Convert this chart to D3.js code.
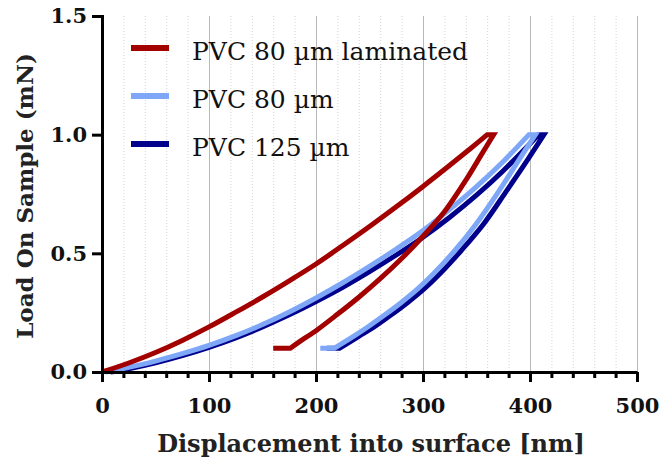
<!DOCTYPE html>
<html>
<head>
<meta charset="utf-8">
<script src="https://cdn.jsdelivr.net/npm/d3@7"></script>
<style>
  html, body { margin: 0; padding: 0; background: #fff; }
  svg { display: block; }
</style>
</head>
<body>
<svg id="chart" width="661" height="462"></svg>
<script>
// Nanoindentation load–displacement curves (loading, hold, unloading)
const seriesNames = ["PVC 80 µm laminated", "PVC 80 µm", "PVC 125 µm"];
const seriesColors = ["#a30000", "#7fa7f7", "#00008a"];

// PVC 80 µm laminated
const lamDepth = [0, 25, 50, 75, 100, 125, 150, 175, 200, 225, 250, 275, 300, 325, 345, 360,
                  366, 355, 341, 320, 300, 280, 260, 240, 220, 200, 185, 176, 160];
const lamLoad  = [0, 0.038, 0.082, 0.133, 0.19, 0.252, 0.316, 0.384, 0.455, 0.533, 0.613, 0.696, 0.782, 0.871, 0.944, 1.0,
                  1.0, 0.919, 0.815, 0.675, 0.572, 0.478, 0.393, 0.315, 0.243, 0.174, 0.129, 0.1, 0.1];

// PVC 80 µm
const p80Depth = [3, 25, 50, 75, 100, 125, 150, 175, 200, 225, 250, 275, 300, 325, 350, 375, 399,
                  405, 390, 370, 350, 330, 310, 295, 280, 265, 250, 235, 217, 204];
const p80Load  = [0, 0.02, 0.046, 0.077, 0.112, 0.153, 0.2, 0.253, 0.312, 0.376, 0.445, 0.518, 0.596, 0.685, 0.781, 0.887, 1.0,
                  1.0, 0.896, 0.756, 0.626, 0.513, 0.415, 0.35, 0.294, 0.243, 0.195, 0.15, 0.1, 0.1];

// PVC 125 µm
const p125Depth = [8, 25, 50, 75, 100, 125, 150, 175, 200, 225, 250, 275, 300, 325, 350, 375, 408,
                   413, 398, 377, 357, 336, 316, 301, 286, 271, 256, 240, 222, 210];
const p125Load  = [0, 0.014, 0.039, 0.069, 0.104, 0.144, 0.19, 0.241, 0.297, 0.357, 0.423, 0.493, 0.568, 0.652, 0.745, 0.848, 1.0,
                   1.0, 0.896, 0.756, 0.626, 0.513, 0.415, 0.35, 0.294, 0.243, 0.195, 0.15, 0.1, 0.1];

const xMajorTicks = [0, 100, 200, 300, 400, 500];
const xMinorTicks = d3.range(20, 500, 20).filter(v => v % 100 !== 0);
const yTicks = [0, 0.5, 1.0, 1.5];

const xTitle = "Displacement into surface [nm]";
const yTitle = "Load On Sample (mN)";

const svg = d3.select("#chart");
const x = d3.scaleLinear().domain([0, 500]).range([102, 637]);
const y = d3.scaleLinear().domain([0, 1.5]).range([372, 16]);

// vertical grid: dotted minor, solid major
const grid = svg.append("g");
grid.selectAll("line.minor").data(xMinorTicks).join("line")
  .attr("x1", d => x(d) + 0.5).attr("x2", d => x(d) + 0.5)
  .attr("y1", y(1.5)).attr("y2", y(0))
  .attr("stroke", "#d4d4d4").attr("stroke-width", 1)
  .attr("stroke-dasharray", "1,2");
grid.selectAll("line.major").data(xMajorTicks.slice(1)).join("line")
  .attr("x1", d => x(d) + 0.5).attr("x2", d => x(d) + 0.5)
  .attr("y1", y(1.5)).attr("y2", y(0))
  .attr("stroke", "#b8b8b8").attr("stroke-width", 1);

// curves: smooth loading and unloading branches, straight hold and end segments
const curveData = [
  d3.zip(lamDepth, lamLoad),
  d3.zip(p80Depth, p80Load),
  d3.zip(p125Depth, p125Load)
];
const smooth = d3.line().x(d => x(d[0])).y(d => y(d[1])).curve(d3.curveCatmullRom.alpha(0.5));
function loopPath(pts) {
  const maxLoad = d3.max(pts, d => d[1]);
  const minTail = pts[pts.length - 1][1];
  const peak = pts.findIndex(d => d[1] === maxLoad);          // end of loading
  let holdEnd = peak;
  while (holdEnd + 1 < pts.length && pts[holdEnd + 1][1] === maxLoad) holdEnd++;
  const tail = pts.findIndex((d, i) => i > holdEnd && d[1] === minTail); // end of unloading
  const loading = pts.slice(0, peak + 1);
  const unloading = pts.slice(holdEnd, tail + 1);
  const rest = pts.slice(tail + 1);
  let d = smooth(loading);
  d += smooth(unloading).replace(/^M/, "L");
  rest.forEach(p => { d += `L${x(p[0])},${y(p[1])}`; });
  return d;
}
const drawOrder = [2, 1, 0];
svg.append("g").selectAll("path").data(drawOrder).join("path")
  .attr("d", i => loopPath(curveData[i]))
  .attr("fill", "none")
  .attr("stroke", i => seriesColors[i])
  .attr("stroke-width", 5)
  .attr("stroke-linejoin", "miter");

// x axis
const xAxis = svg.append("g").attr("transform", `translate(0,${y(0)})`);
xAxis.call(d3.axisBottom(x).tickValues(xMinorTicks).tickSize(6).tickSizeOuter(0).tickFormat(""));
xAxis.selectAll(".domain").remove();
const xAxisMajor = svg.append("g").attr("transform", `translate(0,${y(0)})`);
xAxisMajor.call(d3.axisBottom(x).tickValues(xMajorTicks).tickSize(10).tickSizeOuter(0).tickPadding(16).tickFormat(d3.format("d")));
[xAxis, xAxisMajor].forEach(g => {
  g.selectAll(".tick line").attr("stroke", "#000").attr("stroke-width", 3);
});
xAxisMajor.select(".domain").attr("stroke", "#000").attr("stroke-width", 3);
xAxisMajor.selectAll(".tick text")
  .attr("font-family", "'DejaVu Serif', serif")
  .attr("font-weight", "bold")
  .attr("font-size", 21)
  .attr("fill", "#111");

// y axis
const yAxis = svg.append("g").attr("transform", `translate(${x(0)},0)`);
yAxis.call(d3.axisLeft(y).tickValues(yTicks).tickSize(10).tickSizeOuter(0).tickPadding(5).tickFormat(d3.format(".1f")));
yAxis.select(".domain").attr("stroke", "#000").attr("stroke-width", 3).attr("stroke-linecap", "square");
yAxis.selectAll(".tick line").attr("stroke", "#000").attr("stroke-width", 3);
yAxis.selectAll(".tick text")
  .attr("font-family", "'DejaVu Serif', serif")
  .attr("font-weight", "bold")
  .attr("font-size", 21)
  .attr("fill", "#111");

// axis titles
svg.append("text")
  .attr("x", 371).attr("y", 452)
  .attr("text-anchor", "middle")
  .attr("font-family", "'DejaVu Serif', serif")
  .attr("font-weight", "bold")
  .attr("font-size", 24)
  .attr("fill", "#222")
  .text(xTitle);
svg.append("text")
  .attr("transform", "translate(33,196) rotate(-90)")
  .attr("text-anchor", "middle")
  .attr("font-family", "'DejaVu Serif', serif")
  .attr("font-weight", "bold")
  .attr("font-size", 23)
  .attr("fill", "#222")
  .text(yTitle);

// legend
const legend = svg.append("g");
const rows = legend.selectAll("g").data(seriesNames).join("g")
  .attr("transform", (d, i) => `translate(0,${48 + i * 48})`);
rows.append("line")
  .attr("x1", 131).attr("x2", 169).attr("y1", 0).attr("y2", 0)
  .attr("stroke", (d, i) => seriesColors[i]).attr("stroke-width", 6);
rows.append("text")
  .attr("x", 192).attr("y", 12)
  .attr("font-family", "'DejaVu Serif', serif")
  .attr("font-size", 25)
  .attr("fill", "#111")
  .text(d => d);
</script>
</body>
</html>
